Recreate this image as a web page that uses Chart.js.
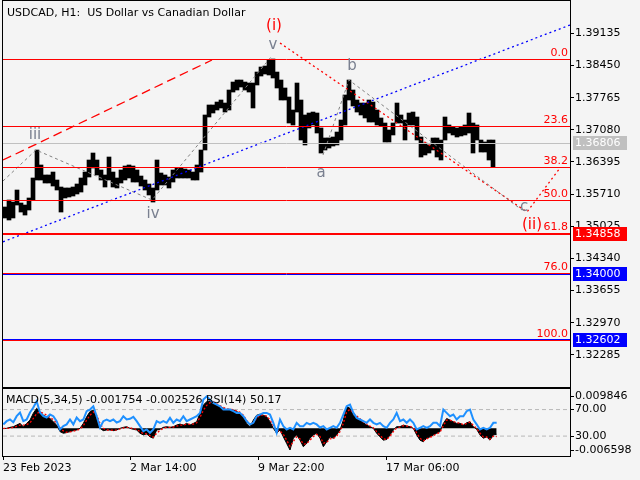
<!DOCTYPE html>
<html>
<head>
<meta charset="utf-8">
<title>USDCAD H1</title>
<script src="https://cdn.jsdelivr.net/npm/chart.js@4.4.0/dist/chart.umd.min.js"></script>
<style>
  html, body { margin: 0; padding: 0; background: #f4f4f4; }
  #wrap { position: relative; width: 640px; height: 480px; overflow: hidden; }
  canvas { position: absolute; left: 0; }
</style>
</head>
<body>
<div id="wrap">
  <canvas id="priceChart" width="640" height="388" style="top:0"></canvas>
  <canvas id="indChart" width="640" height="92" style="top:388px"></canvas>
</div>
<script>
// price bars, one entry per 4 hourly bars: [low, high]
const barStep = 4;
const lows = [
  1.35202, 1.35159, 1.35202, 1.35478, 1.35329, 1.35265, 1.35372, 1.35585, 1.36011, 1.36011,
  1.35947, 1.35947, 1.35883, 1.35798, 1.35329, 1.35628, 1.35649, 1.35670, 1.35713, 1.35755,
  1.35905, 1.36075, 1.36267, 1.36118, 1.36011, 1.35862, 1.36011, 1.35862, 1.35841, 1.35947,
  1.36011, 1.36054, 1.35968, 1.35968, 1.35883, 1.35798, 1.35692, 1.35542, 1.35798, 1.35905,
  1.35905, 1.35841, 1.35968, 1.36054, 1.36054, 1.36054, 1.36054, 1.36011, 1.36011, 1.36181,
  1.36650, 1.37353, 1.37438, 1.37502, 1.37545, 1.37459, 1.37502, 1.37885, 1.37928, 1.37992,
  1.37928, 1.37885, 1.37545, 1.38035, 1.38226, 1.38269, 1.38248, 1.38184, 1.37971, 1.37715,
  1.37715, 1.37225, 1.37183, 1.37459, 1.36863, 1.36757, 1.37119, 1.37183, 1.37012, 1.36586,
  1.36650, 1.36693, 1.36735, 1.36757, 1.36863, 1.37183, 1.37715, 1.37587, 1.37459, 1.37396,
  1.37332, 1.37246, 1.37246, 1.37183, 1.37161, 1.36821, 1.36821, 1.36970, 1.37225, 1.37225,
  1.36863, 1.37183, 1.37183, 1.36863, 1.36501, 1.36544, 1.36586, 1.36650, 1.36501, 1.36437,
  1.36863, 1.37012, 1.36970, 1.36927, 1.36949, 1.36970, 1.37012, 1.36586, 1.36863, 1.36607,
  1.36607, 1.36437, 1.36288
];
const highs = [
  1.35436, 1.35585, 1.35542, 1.35798, 1.35521, 1.35478, 1.35628, 1.36054, 1.36650, 1.36331,
  1.36118, 1.36118, 1.36181, 1.36011, 1.35862, 1.35841, 1.35841, 1.35862, 1.35926, 1.36054,
  1.36181, 1.36437, 1.36586, 1.36437, 1.36224, 1.36118, 1.36501, 1.36181, 1.36054, 1.36224,
  1.36309, 1.36331, 1.36309, 1.36224, 1.36096, 1.36011, 1.35926, 1.35841, 1.36437, 1.36160,
  1.36118, 1.36075, 1.36224, 1.36267, 1.36267, 1.36245, 1.36224, 1.36181, 1.36331, 1.36650,
  1.37396, 1.37609, 1.37609, 1.37672, 1.37715, 1.37651, 1.37928, 1.38098, 1.38141, 1.38141,
  1.38098, 1.38077, 1.38077, 1.38311, 1.38418, 1.38439, 1.38567, 1.38588, 1.38311, 1.38141,
  1.37971, 1.37779, 1.37502, 1.38077, 1.37715, 1.37396, 1.37438, 1.37459, 1.37438, 1.37119,
  1.36906, 1.36906, 1.36927, 1.37033, 1.37289, 1.37822, 1.38141, 1.37928, 1.37715, 1.37651,
  1.37651, 1.37715, 1.37672, 1.37502, 1.37332, 1.37225, 1.37076, 1.37225, 1.37651, 1.37396,
  1.37289, 1.37438, 1.37459, 1.37353, 1.36927, 1.36799, 1.36757, 1.36906, 1.36906, 1.36863,
  1.37353, 1.37183, 1.37140, 1.37119, 1.37140, 1.37183, 1.37438, 1.37225, 1.37183, 1.36863,
  1.36821, 1.36863, 1.36863
];

const priceTicks = [1.39135, 1.38450, 1.37765, 1.37080, 1.36395, 1.35710, 1.35025,
                    1.34340, 1.33655, 1.32970, 1.32285];
const bidPrice = 1.36806;

// fibonacci grid
const fibTop = 1.38582;
const fibBottom = 1.32602;
const fibLevels = [0.0, 23.6, 38.2, 50.0, 61.8, 76.0, 100.0];

// horizontal levels with price tags
const tagPrices = [1.36806, 1.34858, 1.34000, 1.32602];

// trend lines, [bar, price]
const channelTop = [[0, 1.36437], [209, 1.38567]];
const channelBottom = [[0, 1.34695], [567, 1.39313]];
const impulseWave = [[0, 1.35990], [33, 1.36650], [149, 1.35585], [268, 1.38631]];
const correctionWave = [[320, 1.36544], [346, 1.38141], [519, 1.35372]];
const targetPath = [[277, 1.38929], [524, 1.35329], [557, 1.36267]];

// wave labels
const waveNames = ['iii', 'iv', 'v', 'a', 'b', 'c'];
const wavePos = [[32, 1.36970], [150, 1.35287], [270, 1.38887], [318, 1.36160], [349, 1.38439], [521, 1.35436]];
const degreeNames = ['(i)', '(ii)'];
const degreePos = [[271, 1.39291], [529, 1.35053]];

// indicators, one reading every 10/3 bars
const sampleStep = 10 / 3;
const macd = [
  -0.0001, 0, 0.0003, 0.0005, 0.001, 0.0015, 0.0005, 0.0015, 0.0025, 0.0046,
  0.0061, 0.0051, 0.004, 0.0035, 0.003, 0.002, 0.001, -0.001, -0.0015, -0.0013,
  -0.001, -0.0007, -0.0005, 0, 0.0015, 0.0035, 0.0051, 0.0056, 0.003, 0,
  -0.0007, -0.0005, -0.0005, -0.0007, -0.0005, 0, 0.0003, 0.0005, 0, -0.0003,
  -0.0005, -0.0015, -0.002, -0.0017, -0.0026, -0.003, -0.0005, -0.0003, 0.0003, 0.0005,
  0.0003, 0.0005, 0.001, 0.0013, 0.001, 0.0015, 0.001, 0.0015, 0.002, 0.0046,
  0.0071, 0.0081, 0.0084, 0.0081, 0.0071, 0.0066, 0.0061, 0.0056, 0.0058, 0.0056,
  0.0051, 0.0046, 0.0035, 0.0015, 0.0005, 0.0025, 0.004, 0.0043, 0.004, 0.0035,
  0.002, 0, -0.0015, -0.0005, -0.0026, -0.0046, -0.0066, -0.003, -0.002, -0.0036,
  -0.0056, -0.0046, -0.003, -0.002, -0.0015, -0.003, -0.0056, -0.0041, -0.0026, -0.003,
  -0.002, -0.0005, 0.0025, 0.0066, 0.0061, 0.004, 0.0035, 0.0025, 0.0017, 0.001,
  0.0005, 0, -0.0015, -0.0026, -0.0036, -0.0034, -0.002, -0.0005, 0.0005, 0.0005,
  0.001, 0.0007, 0.0005, 0, -0.002, -0.0036, -0.0041, -0.003, -0.0026, -0.002,
  -0.0015, -0.001, 0.0015, 0.003, 0.0025, 0.002, 0.0015, 0.0015, 0.001, 0.0017,
  0.002, 0.0005, -0.0003, -0.002, -0.003, -0.0026, -0.0036, -0.002, -0.0018
];
const signal = [
  0, 0, 0, 0.0003, 0.0006, 0.001, 0.001, 0.0011, 0.0017, 0.003,
  0.0045, 0.005, 0.0046, 0.004, 0.0034, 0.0026, 0.0016, 0.0002, -0.0008, -0.0012,
  -0.0011, -0.0009, -0.0006, -0.0002, 0.0008, 0.0025, 0.004, 0.005, 0.004, 0.0015,
  0, -0.0005, -0.0005, -0.0006, -0.0005, -0.0002, 0.0001, 0.0003, 0.0002, -0.0001,
  -0.0003, -0.001, -0.0016, -0.0017, -0.0022, -0.0027, -0.0015, -0.0006, 0, 0.0003,
  0.0003, 0.0004, 0.0007, 0.001, 0.001, 0.0013, 0.0012, 0.0013, 0.0017, 0.0033,
  0.0055, 0.007, 0.0078, 0.008, 0.0075, 0.0069, 0.0064, 0.0059, 0.0058, 0.0057,
  0.0053, 0.0049, 0.004, 0.0024, 0.0012, 0.0018, 0.0032, 0.004, 0.004, 0.0037,
  0.0026, 0.0008, -0.0008, -0.0008, -0.0018, -0.0036, -0.0055, -0.004, -0.0026, -0.0032,
  -0.0048, -0.0047, -0.0036, -0.0025, -0.0018, -0.0025, -0.0045, -0.0043, -0.0032, -0.0031,
  -0.0024, -0.001, 0.0015, 0.005, 0.0058, 0.0046, 0.0038, 0.0029, 0.002, 0.0013,
  0.0007, 0.0002, -0.001, -0.0021, -0.0032, -0.0034, -0.0024, -0.001, 0.0001, 0.0004,
  0.0008, 0.0007, 0.0006, 0.0002, -0.0014, -0.003, -0.0038, -0.0032, -0.0028, -0.0022,
  -0.0017, -0.0012, 0.0008, 0.0025, 0.0025, 0.0021, 0.0017, 0.0016, 0.0011, 0.0015,
  0.0019, 0.0009, 0, -0.0015, -0.0026, -0.0026, -0.0033, -0.0024, -0.0025
];
const rsi = [
  47.6, 52.5, 55, 51, 60, 65.5, 52.5, 55, 65.5, 73, 82.5, 65.5, 60, 58, 62.5, 60, 52.5, 40, 45, 47.6,
  55, 47.6, 58, 52.5, 55, 67.5, 70, 75, 60, 43, 52.5, 55, 52.5, 55, 50.5, 52.5, 60, 55, 56, 59,
  52.5, 45, 37.5, 40, 35, 40, 52.5, 50, 52.5, 50, 57.5, 50, 55, 52.5, 60, 52.5, 55, 57.5, 60, 65,
  85, 90, 85, 80, 77.5, 75, 70, 70, 70, 67.5, 65, 65, 60, 52.5, 47.6, 50, 60, 62.5, 65, 65,
  62.5, 50, 35, 55, 45, 40, 42.5, 40, 50, 45, 45, 50, 47.6, 50, 47.6, 43, 45, 40, 42.5, 45,
  42.5, 50, 62.5, 75, 77.5, 65, 57.5, 55, 52.5, 50, 55, 50, 47.6, 50, 45, 42.5, 50, 55, 65, 52.5,
  55, 50, 55, 50, 40, 42.5, 45, 42.5, 45, 50, 50, 45, 70, 65, 60, 62.5, 55, 60, 60, 67.5,
  70, 55, 47.6, 40, 42.5, 40, 42.5, 50, 50.2
];
const rsiLevels = [70, 30];
const macdMarks = [0.009846, -0.006598];
const timeTicks = [0, 127, 255, 383];
const timeLabels = ['23 Feb 2023', '2 Mar 14:00', '9 Mar 22:00', '17 Mar 06:00'];

// ---- styles
Chart.defaults.font.family = 'DejaVu Sans';
Chart.defaults.font.size = 11;
Chart.defaults.color = '#000';
const RED = '#ff0000', BLUE = '#0000ff', GRAY = '#808080';
const tagColors = ['#c0c0c0', RED, BLUE, BLUE];
const lastBar = 567;
const priceMin = 1.31602, priceMax = 1.39824;

const pts = (arr) => arr.map(p => ({ x: p[0], y: p[1] }));
const flat = (v) => [{ x: 0, y: v }, { x: lastBar, y: v }];
function lineSet(data, color, width, dash, extra) {
  return Object.assign({
    type: 'line', data: data, borderColor: color, borderWidth: width,
    borderDash: dash || [], pointRadius: 0, fill: false, tension: 0, order: 1
  }, extra || {});
}
const fibPrice = (lvl) => fibTop - (fibTop - fibBottom) * lvl / 100;

const framePlugin = {
  id: 'frame',
  afterDraw(chart) {
    const { ctx, chartArea: a } = chart;
    ctx.save();
    ctx.strokeStyle = '#000';
    ctx.lineWidth = 1;
    ctx.strokeRect(a.left - 0.5, a.top - 0.5, a.right - a.left + 1, a.bottom - a.top + 1);
    ctx.restore();
  }
};

// horizontal price levels, snapped to whole pixels so they stay crisp
const levelPlugin = {
  id: 'levels',
  afterDatasetsDraw(chart) {
    const { ctx, chartArea: a, scales } = chart;
    const sy = scales.y;
    const hl = (price, color, width) => {
      let y = Math.round(sy.getPixelForValue(price));
      if (width % 2) y += 0.5;
      ctx.strokeStyle = color;
      ctx.lineWidth = width;
      ctx.beginPath();
      ctx.moveTo(a.left, y);
      ctx.lineTo(a.right, y);
      ctx.stroke();
    };
    ctx.save();
    hl(bidPrice, '#c0c0c0', 1);
    hl(tagPrices[2], BLUE, 1);
    hl(tagPrices[3], BLUE, 2);
    hl(tagPrices[1], RED, 2);
    fibLevels.forEach(l => hl(fibPrice(l), RED, 1));
    ctx.restore();
  }
};

const textPlugin = {
  id: 'texts',
  afterDraw(chart) {
    const { ctx, scales } = chart;
    const sx = scales.x, sy = scales.y;
    ctx.save();
    // title
    ctx.fillStyle = '#000';
    ctx.font = '11px "DejaVu Sans"';
    ctx.textAlign = 'left';
    ctx.textBaseline = 'alphabetic';
    ctx.fillText('USDCAD, H1:  US Dollar vs Canadian Dollar', 7, 16);
    // fib level captions
    ctx.fillStyle = RED;
    ctx.textAlign = 'right';
    fibLevels.forEach(l => {
      ctx.fillText(l.toFixed(1), chart.chartArea.right - 2, Math.round(sy.getPixelForValue(fibPrice(l))) - 3);
    });
    // wave labels
    ctx.font = '15px "DejaVu Sans"';
    ctx.textAlign = 'center';
    ctx.textBaseline = 'middle';
    ctx.fillStyle = '#7a8090';
    waveNames.forEach((n, i) => {
      ctx.fillText(n, sx.getPixelForValue(wavePos[i][0]), sy.getPixelForValue(wavePos[i][1]));
    });
    ctx.fillStyle = RED;
    degreeNames.forEach((n, i) => {
      ctx.fillText(n, sx.getPixelForValue(degreePos[i][0]), sy.getPixelForValue(degreePos[i][1]));
    });
    // price tags on the axis
    ctx.font = '11px "DejaVu Sans"';
    ctx.textAlign = 'left';
    tagPrices.forEach((p, i) => {
      const y = Math.round(sy.getPixelForValue(p));
      ctx.fillStyle = tagColors[i];
      ctx.fillRect(chart.chartArea.right + 3, y - 7, 54, 14);
      ctx.fillStyle = '#fff';
      ctx.fillText(p.toFixed(5), chart.chartArea.right + 5, y);
    });
    ctx.restore();
  }
};

const candles = lows.map((lo, k) => ({ x: barStep * k + 2, y: [lo, highs[k]] }));

const priceSets = [
  { type: 'bar', data: candles, backgroundColor: '#000', borderWidth: 0, barThickness: 4, order: 10 },
  lineSet(pts(channelTop), RED, 1.3, [9, 5]),
  lineSet(pts(channelBottom), BLUE, 1.3, [2, 3]),
  lineSet(pts(impulseWave), GRAY, 1, [3, 3]),
  lineSet(pts(correctionWave), GRAY, 1, [3, 3]),
  lineSet(pts(targetPath), RED, 1.3, [2, 3])
];

new Chart(document.getElementById('priceChart'), {
  type: 'bar',
  data: { datasets: priceSets },
  options: {
    responsive: false,
    animation: false,
    layout: { padding: { top: 1, bottom: 1, left: 3, right: 0 } },
    plugins: { legend: { display: false }, tooltip: { enabled: false } },
    scales: {
      x: { type: 'linear', min: 0, max: lastBar, offset: false, display: false },
      y: {
        type: 'linear', position: 'right', min: priceMin, max: priceMax,
        afterBuildTicks: s => { s.ticks = priceTicks.map(v => ({ value: v })); },
        afterFit: s => { s.width = 70; s.paddingTop = 0; s.paddingBottom = 0; },
        grid: { drawOnChartArea: false, drawTicks: true, tickLength: 4, color: '#000' },
        border: { display: true, color: '#000' },
        ticks: { padding: 1, color: '#000', autoSkip: false, callback: v => v.toFixed(5) }
      }
    }
  },
  plugins: [levelPlugin, framePlugin, textPlugin]
});

// ---- indicator window (MACD + RSI)
const macdMin = -0.008425, macdMax = 0.011978;
const rsiMin = 0, rsiMax = 101;
const rsiAt = (m) => rsiMin + (m - macdMin) / (macdMax - macdMin) * (rsiMax - rsiMin);
const indTickVals = [rsiAt(macdMarks[0]), rsiLevels[0], rsiLevels[1], rsiAt(macdMarks[1])];
const indTickLabels = [macdMarks[0].toFixed(6), rsiLevels[0].toFixed(2), rsiLevels[1].toFixed(2), macdMarks[1].toFixed(6)];
const sampleX = (i) => (i + 1) * sampleStep - 3;

const indText = {
  id: 'indText',
  afterDraw(chart) {
    const ctx = chart.ctx;
    ctx.save();
    ctx.font = '11px "DejaVu Sans"';
    ctx.fillStyle = '#000';
    ctx.textBaseline = 'alphabetic';
    ctx.fillText('MACD(5,34,5) -0.001754 -0.002526 RSI(14) 50.17', 6, 15);
    ctx.restore();
  }
};

new Chart(document.getElementById('indChart'), {
  type: 'line',
  data: {
    datasets: [
      lineSet(macd.map((v, i) => ({ x: sampleX(i), y: v })), '#000', 1, [],
        { fill: 'origin', backgroundColor: '#000', yAxisID: 'yMacd', order: 3 }),
      lineSet(signal.map((v, i) => ({ x: sampleX(i), y: v })), RED, 1.3, [2, 2],
        { yAxisID: 'yMacd', order: 2 }),
      lineSet(flat(rsiLevels[0]), '#b8b8b8', 1, [4, 3], { yAxisID: 'y', order: 4 }),
      lineSet(flat(rsiLevels[1]), '#b8b8b8', 1, [4, 3], { yAxisID: 'y', order: 4 }),
      lineSet(rsi.map((v, i) => ({ x: sampleX(i), y: v })), '#1e90ff', 2, [],
        { yAxisID: 'y', order: 0 })
    ]
  },
  options: {
    responsive: false,
    animation: false,
    layout: { padding: { top: 1, bottom: 0, left: 3, right: 0 } },
    plugins: { legend: { display: false }, tooltip: { enabled: false } },
    scales: {
      x: {
        type: 'linear', min: 0, max: lastBar, offset: false,
        afterBuildTicks: s => { s.ticks = timeTicks.map(v => ({ value: v })); },
        afterFit: s => { s.height = 24; s.paddingLeft = 0; s.paddingRight = 0; },
        grid: { drawOnChartArea: false, drawTicks: true, tickLength: 4, color: '#000' },
        border: { display: false },
        ticks: { align: 'start', padding: 2, maxRotation: 0, autoSkip: false, color: '#000',
                 callback: (v, i) => timeLabels[i] }
      },
      y: {
        type: 'linear', position: 'right', min: rsiMin, max: rsiMax,
        afterBuildTicks: s => { s.ticks = indTickVals.map(v => ({ value: v })); },
        afterFit: s => { s.width = 70; s.paddingTop = 0; s.paddingBottom = 0; },
        grid: { drawOnChartArea: false, drawTicks: true, tickLength: 4, color: '#000' },
        border: { display: true, color: '#000' },
        ticks: { padding: 1, color: '#000', autoSkip: false, callback: (v, i) => indTickLabels[i] }
      },
      yMacd: { type: 'linear', display: false, min: macdMin, max: macdMax }
    }
  },
  plugins: [framePlugin, indText]
});
</script>
</body>
</html>
